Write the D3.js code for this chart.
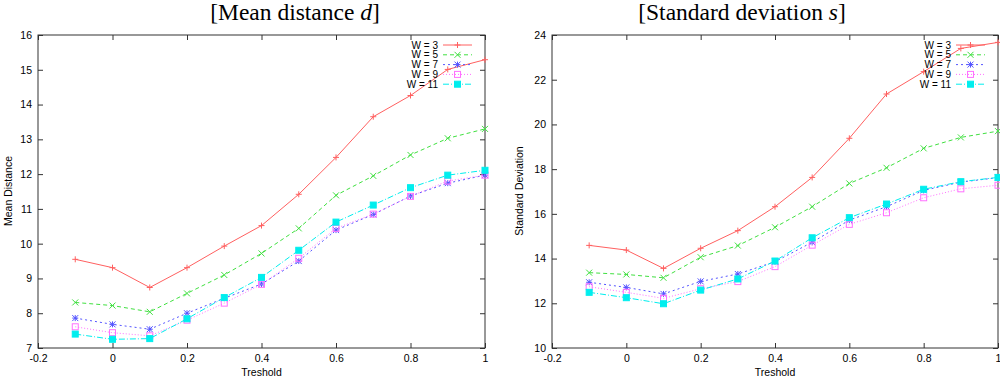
<!DOCTYPE html>
<html lang="en">
<head>
<meta charset="UTF-8">
<title>Mean distance / Standard deviation</title>
<style>
  body { margin: 0; background: #fff; }
  svg { display: block; }
  .tick text { font-family: "Liberation Sans", Arial, sans-serif; font-size: 10.5px; fill: #000; }
  .tick line { stroke: #333; }
</style>
</head>
<body>
<svg id="chart"></svg>
<script src="https://cdn.jsdelivr.net/npm/d3@7"></script>
<script>
// thresholds on the x axis
const thresholds = [-0.1, 0, 0.1, 0.2, 0.3, 0.4, 0.5, 0.6, 0.7, 0.8, 0.9, 1];
const seriesNames = ["W = 3", "W = 5", "W = 7", "W = 9", "W = 11"];
const xTicks = [-0.2, 0, 0.2, 0.4, 0.6, 0.8, 1];

// mean distance d
const meanW3  = [9.55, 9.31, 8.74, 9.31, 9.93, 10.52, 11.42, 12.48, 13.65, 14.26, 15.01, 15.29];
const meanW5  = [8.31, 8.22, 8.04, 8.57, 9.10, 9.72, 10.44, 11.39, 11.95, 12.55, 13.03, 13.30];
const meanW7  = [7.86, 7.68, 7.54, 8.00, 8.43, 8.84, 9.50, 10.39, 10.84, 11.37, 11.74, 11.97];
const meanW9  = [7.61, 7.44, 7.35, 7.80, 8.29, 8.83, 9.58, 10.44, 10.85, 11.36, 11.80, 11.97];
const meanW11 = [7.40, 7.25, 7.27, 7.84, 8.45, 9.03, 9.81, 10.62, 11.11, 11.61, 11.97, 12.11];
const meanTicks = [7, 8, 9, 10, 11, 12, 13, 14, 15, 16];

// standard deviation s
const stdW3  = [14.59, 14.38, 13.56, 14.46, 15.25, 16.32, 17.63, 19.38, 21.36, 22.36, 23.40, 23.67];
const stdW5  = [13.37, 13.29, 13.14, 14.06, 14.58, 15.40, 16.32, 17.36, 18.06, 18.93, 19.42, 19.70];
const stdW7  = [12.94, 12.71, 12.42, 12.98, 13.31, 13.86, 14.73, 15.72, 16.32, 17.05, 17.42, 17.62];
const stdW9  = [12.74, 12.49, 12.22, 12.65, 12.97, 13.64, 14.60, 15.53, 16.05, 16.72, 17.12, 17.28];
const stdW11 = [12.49, 12.25, 11.98, 12.59, 13.09, 13.89, 14.93, 15.83, 16.44, 17.10, 17.44, 17.63];
const stdTicks = [10, 12, 14, 16, 18, 20, 22, 24];

// gnuplot-ish line styles
const colors = ["#ff6060", "#40e040", "#5555ff", "#ff70ff", "#00eeee"];
const dashes = [null, "4,3", "2,3", "1,2", "6,2,1,2"];
const markers = ["plus", "cross", "star", "box", "fbox"];

const svg = d3.select("#chart").attr("width", 1000).attr("height", 377);

function drawMarker(g, type, cx, cy, color) {
    const r = 3;
    if (type === "plus" || type === "star") {
        g.append("path").attr("d", `M${cx - r},${cy}H${cx + r}M${cx},${cy - r}V${cy + r}`)
            .attr("stroke", color).attr("fill", "none");
    }
    if (type === "cross" || type === "star") {
        g.append("path").attr("d", `M${cx - r},${cy - r}L${cx + r},${cy + r}M${cx - r},${cy + r}L${cx + r},${cy - r}`)
            .attr("stroke", color).attr("fill", "none");
    }
    if (type === "box" || type === "fbox") {
        g.append("rect").attr("x", cx - r).attr("y", cy - r).attr("width", 2 * r).attr("height", 2 * r)
            .attr("stroke", color).attr("fill", type === "fbox" ? color : "none");
    }
}

function drawPanel(opt) {
    const x = d3.scaleLinear().domain([-0.2, 1]).range([opt.left, opt.right]);
    const y = d3.scaleLinear().domain(opt.yDomain).range([348, 35]);
    const g = svg.append("g");

    // axes with inward ticks, mirrored on top / right
    const fmt = d => String(+d.toFixed(1));
    g.append("g").attr("transform", "translate(0,348)")
        .call(d3.axisBottom(x).tickValues(xTicks).tickSizeInner(-5).tickSizeOuter(0).tickPadding(7).tickFormat(fmt));
    g.append("g").attr("transform", "translate(0,35)")
        .call(d3.axisTop(x).tickValues(xTicks).tickSizeInner(-5).tickSizeOuter(0).tickFormat(""));
    g.append("g").attr("transform", "translate(" + opt.left + ",0)")
        .call(d3.axisLeft(y).tickValues(opt.yTicks).tickSizeInner(-5).tickSizeOuter(0).tickPadding(6).tickFormat(fmt));
    g.append("g").attr("transform", "translate(" + opt.right + ",0)")
        .call(d3.axisRight(y).tickValues(opt.yTicks).tickSizeInner(-5).tickSizeOuter(0).tickFormat(""));
    g.selectAll(".domain").remove();

    g.append("rect").attr("x", opt.left).attr("y", 35)
        .attr("width", opt.right - opt.left).attr("height", 313)
        .attr("fill", "none").attr("stroke", "#333");

    // series
    const line = d3.line().x((d, i) => x(thresholds[i])).y(d => y(d));
    opt.series.forEach((vals, k) => {
        g.append("path").datum(vals).attr("d", line)
            .attr("fill", "none").attr("stroke", colors[k]).attr("stroke-width", 1)
            .attr("stroke-dasharray", dashes[k]);
        const mg = g.append("g");
        vals.forEach((v, i) => drawMarker(mg, markers[k], x(thresholds[i]), y(v), colors[k]));
    });

    // legend
    const lg = g.append("g");
    seriesNames.forEach((name, k) => {
        const ly = 45 + k * 9.8;
        lg.append("text").attr("x", opt.right - 47).attr("y", ly + 3.5)
            .attr("text-anchor", "end")
            .style("font-family", "Liberation Sans, Arial, sans-serif").style("font-size", "10px")
            .text(name);
        lg.append("line").attr("x1", opt.right - 42).attr("x2", opt.right - 13)
            .attr("y1", ly).attr("y2", ly)
            .attr("stroke", colors[k]).attr("stroke-dasharray", dashes[k]);
        drawMarker(lg, markers[k], opt.right - 27.5, ly, colors[k]);
    });

    // labels
    g.append("text").attr("x", (opt.left + opt.right) / 2).attr("y", 376)
        .attr("text-anchor", "middle")
        .style("font-family", "Liberation Sans, Arial, sans-serif").style("font-size", "10.5px")
        .text("Treshold");
    g.append("text").attr("transform", "translate(" + opt.yLabelX + ",191) rotate(-90)")
        .attr("text-anchor", "middle")
        .style("font-family", "Liberation Sans, Arial, sans-serif").style("font-size", "10.5px")
        .text(opt.yLabel);

    const t = g.append("text").attr("x", opt.titleX).attr("y", 19.5)
        .attr("text-anchor", "middle")
        .style("font-family", "Liberation Serif, Times New Roman, serif").style("font-size", "23.5px");
    t.append("tspan").text(opt.title[0]);
    t.append("tspan").style("font-style", "italic").text(opt.title[1]);
    t.append("tspan").text("]");
}

drawPanel({
    left: 38, right: 485, yDomain: [7, 16], yTicks: meanTicks,
    series: [meanW3, meanW5, meanW7, meanW9, meanW11],
    yLabel: "Mean Distance", yLabelX: 12,
    title: ["[Mean distance ", "d"], titleX: 295
});
drawPanel({
    left: 552, right: 998, yDomain: [10, 24], yTicks: stdTicks,
    series: [stdW3, stdW5, stdW7, stdW9, stdW11],
    yLabel: "Standard Deviation", yLabelX: 523,
    title: ["[Standard deviation ", "s"], titleX: 742
});
</script>
</body>
</html>
